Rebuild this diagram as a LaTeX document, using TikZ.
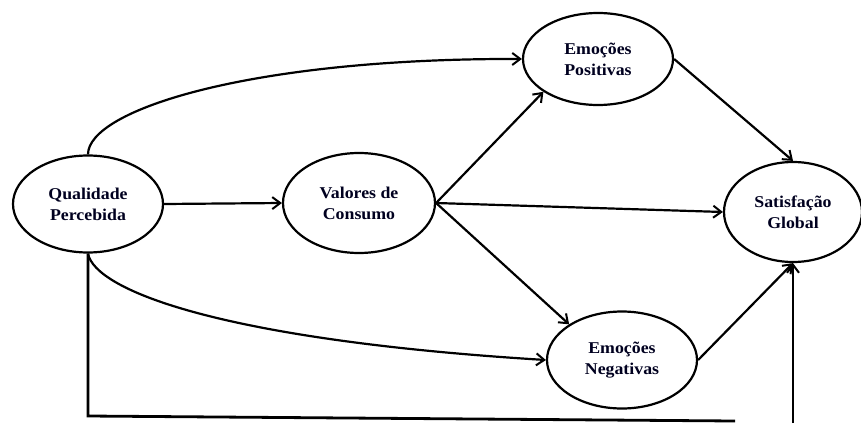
\documentclass[tikz,border=0pt]{standalone}
\usepackage{fontspec}
\setmainfont{Liberation Serif}[FakeStretch=1.08]
\usetikzlibrary{shapes.geometric,arrows.meta}
\begin{document}
\begin{tikzpicture}[x=1pt,y=-1pt,
  construct/.style={ellipse,draw,line width=2.2pt,inner sep=0pt,
    align=center,font=\fontsize{16.5}{21}\selectfont\bfseries,text=black!88!blue},
  path/.style={line width=2.2pt,-{Straight Barb[length=8pt,width=12pt,line width=2pt]}},
  plain/.style={line width=2.8pt}]
\useasboundingbox (0,0) rectangle (861,423);

% latent constructs
\node[construct,minimum width=150pt,minimum height=97pt] (q) at (88,204) {Qualidade\\Percebida};
\node[construct,minimum width=152pt,minimum height=100pt] (v) at (359,203) {Valores de\\Consumo};
\node[construct,minimum width=150pt,minimum height=92pt] (p) at (598,59) {Emoções\\Positivas};
\node[construct,minimum width=138pt,minimum height=100pt] (s) at (793,212) {Satisfação\\Global};
\node[construct,minimum width=150pt,minimum height=97pt] (n) at (622,360) {Emoções\\Negativas};

% direct paths
\draw[path] (q.east) -- (v.west);
\draw[path] (q.north) .. controls (88,110) and (250,58) .. (p.west);
\draw[path] (q.south) .. controls (95,290) and (220,340) .. (n.west);
\draw[path] (v.east) -- (p.211);
\draw[path] (v.east) -- (s.west);
\draw[path] (v.east) -- (n.146);
\draw[path] (p.east) -- (s.north);
\draw[path] (n.east) -- (s.south);

% path running along the bottom edge
\coordinate (c1) at (88,416);
\coordinate (c2) at (735,421);
\coordinate (c3) at (793,423);
\draw[plain] (q.south) -- (c1) -- (c2);
\draw[path] (c3) -- (s.south);
\end{tikzpicture}
\end{document}
